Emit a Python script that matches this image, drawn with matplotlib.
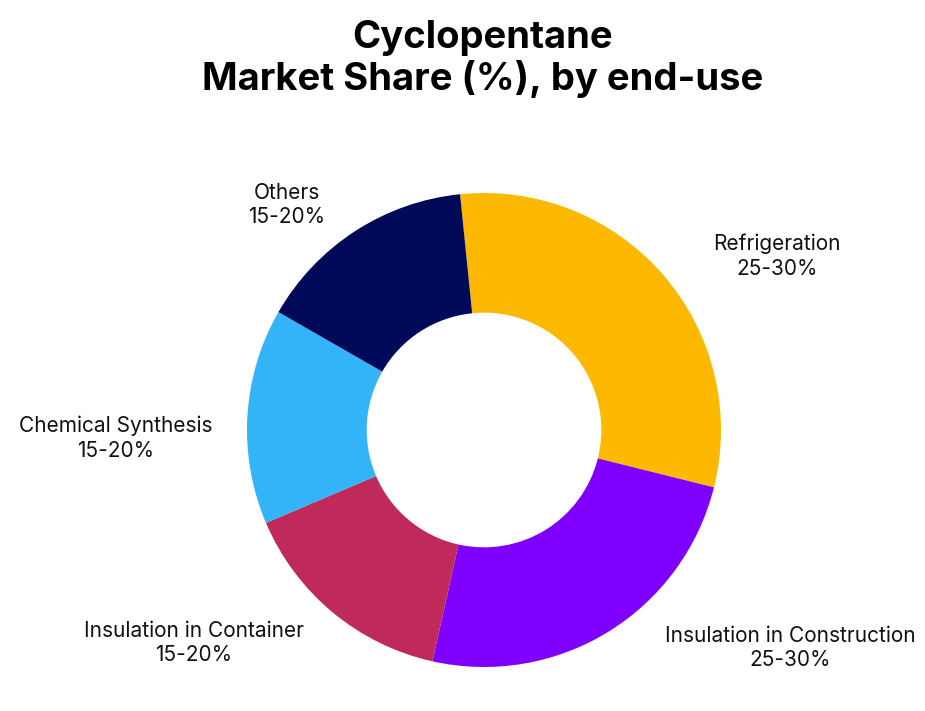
import matplotlib
matplotlib.use("Agg")
import matplotlib.pyplot as plt

categories = ["Refrigeration", "Insulation in Construction", "Insulation in Container",
              "Chemical Synthesis", "Others"]
values = [30.5, 24.6, 15.1, 14.7, 15.1]
range_labels = ["25-30%", "25-30%", "15-20%", "15-20%", "15-20%"]
colors = ["#FDB901", "#8000FF", "#BF2A5A", "#33B3F8", "#010A58"]

W, H = 925, 711
fig = plt.figure(figsize=(W / 100, H / 100), dpi=100)
fig.patch.set_facecolor("white")

cx, cy, r = 484, 430, 237
ax = fig.add_axes([(cx - r) / W, (H - cy - r) / H, 2 * r / W, 2 * r / H])
ax.pie(values, colors=colors, startangle=95.8, counterclock=False, radius=1,
       wedgeprops=dict(width=0.505, linewidth=0))
ax.set_xlim(-1, 1)
ax.set_ylim(-1, 1)
ax.set_aspect("equal")
ax.axis("off")

fig.text(483 / W, 1 - 59 / H, "Cyclopentane\nMarket Share (%), by end-use",
         ha="center", va="center", fontsize=27.5, fontweight="bold",
         family="Inter", linespacing=1.12)

label_pos = [(777, 256), (790, 648), (194, 643), (116, 438), (287, 205)]
for cat, rl, (px, py) in zip(categories, range_labels, label_pos):
    fig.text(px / W, 1 - py / H, f"{cat}\n{rl}", ha="center", va="center",
             fontsize=15, family="Inter", linespacing=1.3, color="#111111")

fig.savefig("out.png", dpi=100, facecolor="white")
